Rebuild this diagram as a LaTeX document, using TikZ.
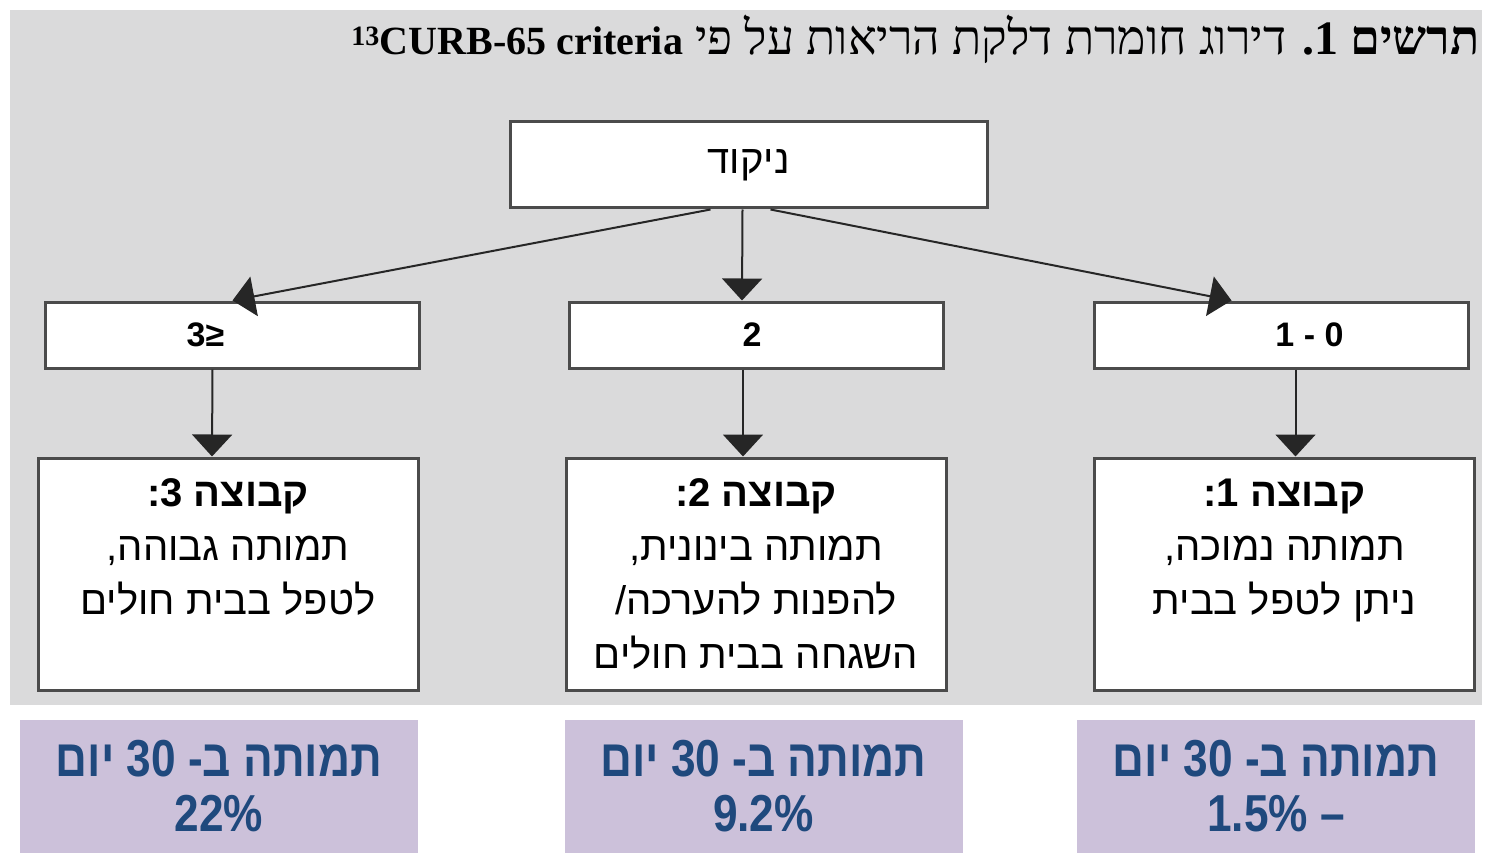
\documentclass[tikz,border=0pt]{standalone}
\usepackage{fontspec}
\usetikzlibrary{arrows.meta, positioning}
\TeXXeTstate=1
\newfontfamily\hebsans[Script=Hebrew]{Liberation Sans}
\newfontfamily\hebserif[Script=Hebrew]{Liberation Serif}
\newfontfamily\hebnarrow[Script=Hebrew, FakeStretch=0.85]{Liberation Sans}
\newfontfamily\latinsans{Liberation Sans}
\definecolor{panelgray}{RGB}{218, 218, 219}
\definecolor{boxline}{RGB}{75, 75, 75}
\definecolor{lavender}{RGB}{204, 193, 218}
\definecolor{darkblue}{RGB}{31, 73, 125}
\newcommand{\rtl}[1]{\beginR#1\endR}

\begin{document}
\begin{tikzpicture}[x=1pt, y=1pt,
    box/.style={draw=boxline, line width=3pt, fill=white, inner sep=0pt},
    rangebox/.style={box, minimum width=374pt, minimum height=66pt, font=\latinsans\bfseries\fontsize{34}{40}\selectfont},
    grpbox/.style={box, minimum width=380pt, minimum height=232pt},
    grptext/.style={inner sep=0pt, align=center, font=\hebsans\fontsize{40}{54}\selectfont},
    mortbox/.style={fill=lavender, minimum width=398pt, minimum height=133pt, inner sep=0pt, align=center, text=darkblue, font=\hebnarrow\bfseries\fontsize{52}{55}\selectfont},
    arr/.style={-{Triangle[width=40pt, length=22pt]}, line width=2pt, draw=black!85}]
    \useasboundingbox[fill=white] (0,0) rectangle (1486,-853);
    \fill[panelgray] (10,-10) rectangle (1482,-705);
    \node[anchor=base east, inner sep=0pt, font=\hebserif\fontsize{48}{50}\selectfont] (title) at (1480,-55)
      {\rtl{\textbf{תרשים \beginL1\endL\kern0pt.} דירוג חומרת דלקת הריאות על פי \beginL{\fontsize{40}{44}\selectfont\textbf{\textsuperscript{13}CURB-65 criteria}}\endL}};
    % scoring
    \node[box, minimum width=477pt, minimum height=86pt, font=\hebsans\fontsize{40}{44}\selectfont] (score) at (748.5,-165) {\rtl{ניקוד}};
    \node[rangebox] (r3) at (232.5,-335) {3≥\hspace*{54pt}};
    \node[rangebox] (r2) at (756,-335) {2\hspace*{8pt}};
    \node[rangebox] (r1) at (1281.5,-335) {\hspace*{56pt}1 - 0};
    \draw[arr] ([xshift=-38pt]score.south) -- (r3.north);
    \draw[arr] ([xshift=-6pt]score.south) -- ([xshift=-14pt]r2.north);
    \draw[arr] ([xshift=22pt]score.south) -- ([xshift=-50pt]r1.north);
    % groups
    \node[grpbox] (g3) at (228,-574) {};
    \node[grpbox] (g2) at (756,-574) {};
    \node[grpbox] (g1) at (1284.5,-574) {};
    \node[grptext, below=22pt of g3.north] (g3t)
      {\rtl{\textbf{קבוצה \beginL3\endL\kern0pt:}}\\ \rtl{תמותה גבוהה\kern0pt,}\\ \rtl{לטפל בבית חולים}};
    \node[grptext, below=22pt of g2.north] (g2t)
      {\rtl{\textbf{קבוצה \beginL2\endL\kern0pt:}}\\ \rtl{תמותה בינונית\kern0pt,}\\ \rtl{להפנות להערכה\kern0pt/}\\ \rtl{השגחה בבית חולים}};
    \node[grptext, below=22pt of g1.north] (g1t)
      {\rtl{\textbf{קבוצה \beginL1\endL\kern0pt:}}\\ \rtl{תמותה נמוכה\kern0pt,}\\ \rtl{ניתן לטפל בבית}};
    \draw[arr] ([xshift=-20pt]r3.south) -- ([xshift=-16pt]g3.north);
    \draw[arr] ([xshift=-13pt]r2.south) -- ([xshift=-13pt]g2.north);
    \draw[arr] ([xshift=14pt]r1.south) -- ([xshift=11pt]g1.north);
    % 30-day mortality
    \node[mortbox] (m3) at (219,-786.5) {\rtl{תמותה ב\kern0pt- \beginL30\endL{} יום}\\ 22\%};
    \node[mortbox] (m2) at (763.5,-786.5) {\rtl{תמותה ב\kern0pt- \beginL30\endL{} יום}\\ 9.2\%};
    \node[mortbox] (m1) at (1276,-786.5) {\rtl{תמותה ב\kern0pt- \beginL30\endL{} יום}\\ 1.5\% –};
\end{tikzpicture}
\end{document}
